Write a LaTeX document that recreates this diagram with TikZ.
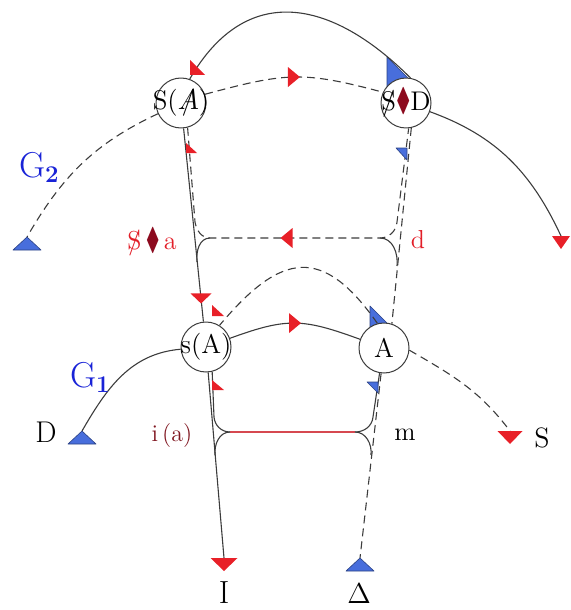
\documentclass[tikz,border=0pt]{standalone}
\usepackage{amsmath,amssymb}
\usepackage{xcolor}
\usepackage{tikz}
\usetikzlibrary{calc}
\definecolor{tipred}{RGB}{232,32,40}
\definecolor{tipblue}{RGB}{72,110,220}
\definecolor{labred}{RGB}{226,30,40}
\definecolor{labmaroon}{RGB}{128,22,32}
\definecolor{diamred}{RGB}{140,10,30}
\definecolor{gblue}{RGB}{25,35,215}
\definecolor{imline}{RGB}{214,72,80}
\definecolor{linegray}{RGB}{60,60,60}
\newcommand{\barS}{\ooalign{S\cr\hidewidth/\hidewidth\cr}}
\newcommand{\barA}{\ooalign{$A$\cr\hidewidth/\hidewidth\cr}}
\newcommand{\dmd}{\textcolor{diamred}{\scalebox{0.8}[1.2]{$\blacklozenge$}}}
\newcommand{\fsz}[1]{\fontsize{#1}{#1}\selectfont}

\begin{document}
\begin{tikzpicture}[x=0.5pt, y=-0.5pt, line join=round,
    place/.style={circle,draw=linegray,line width=0.5pt,fill=white,minimum size=25pt,inner sep=0pt,font=\fsz{13.5}},
    sline/.style={draw=linegray,line width=0.55pt},
    dline/.style={sline,dash pattern=on 4pt off 2.5pt},
    redtip/.style={fill=tipred},
    bluetip/.style={fill=tipblue,draw=tipblue!60!black,line width=0.3pt}]
    \useasboundingbox (0,0) rectangle (570,610);

    % start and end points of the chains
    \coordinate (Gtip) at (27,237);
    \coordinate (Rend) at (561,236);
    \coordinate (Dtip) at (82,431);
    \coordinate (Send) at (510,431);
    \coordinate (Iend) at (224,558);
    \coordinate (Dlt) at (360,558);
    \coordinate (ul) at (210,238);
    \coordinate (ur) at (380,238);
    \coordinate (ll) at (230,432);
    \coordinate (lr) at (355,432);

    % blue marks under the circles
    \path[bluetip] (387,57) -- (413,83) -- (387,90) -- cycle;
    \path[bluetip] (370,306) -- (390,326) -- (370,330) -- cycle;

    % the four places
    \node[place] (SA) at (181,103) {\makebox[0pt]{S(\barA)}};
    \node[place] (SD) at (406,103) {\makebox[0pt]{\barS\dmd D}};
    \node[place] (sA) at (206,347) {\makebox[0pt]{s(A)}};
    \node[place] (A) at (384,348) {\makebox[0pt]{A}};

    % upper chain
    \draw[dline] (SA) to[out=205,in=60] (Gtip);
    \draw[dline] (SA.20) to[out=15,in=165,looseness=1.2] coordinate[pos=0.5] (mU) (SD.155);
    \draw[sline] (SD) to[out=-20,in=115] (Rend);
    \draw[sline] (SD.80) to[out=135,in=60,looseness=1.3] (SA.70);

    % lower chain
    \draw[sline] (Dtip) to[out=60,in=185] (sA);
    \draw[sline] (sA.20) to[out=20,in=160,looseness=1.2] coordinate[pos=0.5] (mL) (A.160);
    \draw[dline] (A.-5) to[out=-30,in=127] (Send);
    \draw[dline] (A.105) to[out=125,in=50,looseness=1.55] (sA.58);

    % the two vectors
    \draw[sline] (SA) -- coordinate[pos=0.88] (mV) (sA);
    \draw[sline] (sA) -- (Iend);
    \draw[dline] (SD.-78) -- (A.72);
    \draw[dline] (A) -- (Dlt);

    % upper bracket
    \draw[dline] (SA.-75) -- (195,222) to[out=-80,in=180] (ul) -- coordinate[pos=0.45] (mH) (ur) to[out=0,in=-95] (397,222) -- (SD.-84);
    \draw[sline] (ul) to[out=180,in=96] (197,262);
    \draw[sline] (ur) to[out=0,in=84] (397,266);

    % lower bracket
    \draw[sline] (sA.-76) -- (214,417) to[out=-85,in=180] (ll);
    \draw[imline,line width=0.55pt] (ll) -- (lr);
    \draw[sline] (lr) to[out=0,in=-95] (373,417) -- (A.-100);
    \draw[sline] (ll) to[out=180,in=95] (215,455);
    \draw[sline] (lr) to[out=0,in=84] (371,455);

    % arrow marks
    \foreach \t in {Gtip,Dtip,Dlt} {\path[bluetip] (\t) -- ++(14,13) -- ++(-28,0) -- cycle;}
    \foreach \t/\w in {Iend/13.5,Send/12.5,Rend/9} {\fill[redtip] (\t) ++(-\w,0) -- ++(2*\w,0) -- ++(-\w,13) -- cycle;}
    \fill[redtip] (mV) ++(-10.5,-5) -- ++(21,0) -- ++(-10.5,10) -- cycle;
    \fill[redtip] (mU) ++(-6,-10) -- ++(0,20) -- ++(12,-10) -- cycle;
    \fill[redtip] (mL) ++(-6,-10) -- ++(0,20) -- ++(12,-10) -- cycle;
    \fill[redtip] (mH) ++(6,-10) -- ++(0,20) -- ++(-12,-10) -- cycle;
    \fill[redtip] (190,60) -- (190,75) -- (205,75) -- cycle;
    \fill[redtip] (212,305) -- (212,316) -- (224,316) -- cycle;
    \fill[redtip] (186,143) -- (186,153) -- (197,153) -- cycle;
    \fill[redtip] (212,380) -- (212,390) -- (224,390) -- cycle;
    \path[bluetip] (396,148) -- (407,148) -- (407,160) -- cycle;
    \path[bluetip] (367,382) -- (378,382) -- (378,393) -- cycle;

    % labels
    \node[font=\fsz{18},text=gblue,anchor=base west] (Gtwo) at (12,177) {G$_{\mathbf{2}}$};
    \node[font=\fsz{18},text=gblue,anchor=base west] (Gone) at (63,387) {G$_{\mathbf{1}}$};
    \node[font=\fsz{15},anchor=base] (Dlab) at (46,442) {D};
    \node[font=\fsz{14},anchor=base] (Slab) at (542,447) {S};
    \node[font=\fsz{16},anchor=base] (Ilab) at (224,603) {I};
    \node[font=\fsz{13.5},anchor=base] (Dltlab) at (359,603) {$\Delta$};
    \node[font=\fsz{13},text=labred,anchor=base] (Salab) at (152,249) {\barS\,\dmd\,a};
    \node[font=\fsz{13},text=labred,anchor=base] (dlab) at (418,248) {d};
    \node[font=\fsz{12},text=labmaroon,anchor=base] (ialab) at (172,441) {i\,(a)};
    \node[font=\fsz{13},anchor=base] (mlab) at (405,440) {m};
\end{tikzpicture}
\end{document}
